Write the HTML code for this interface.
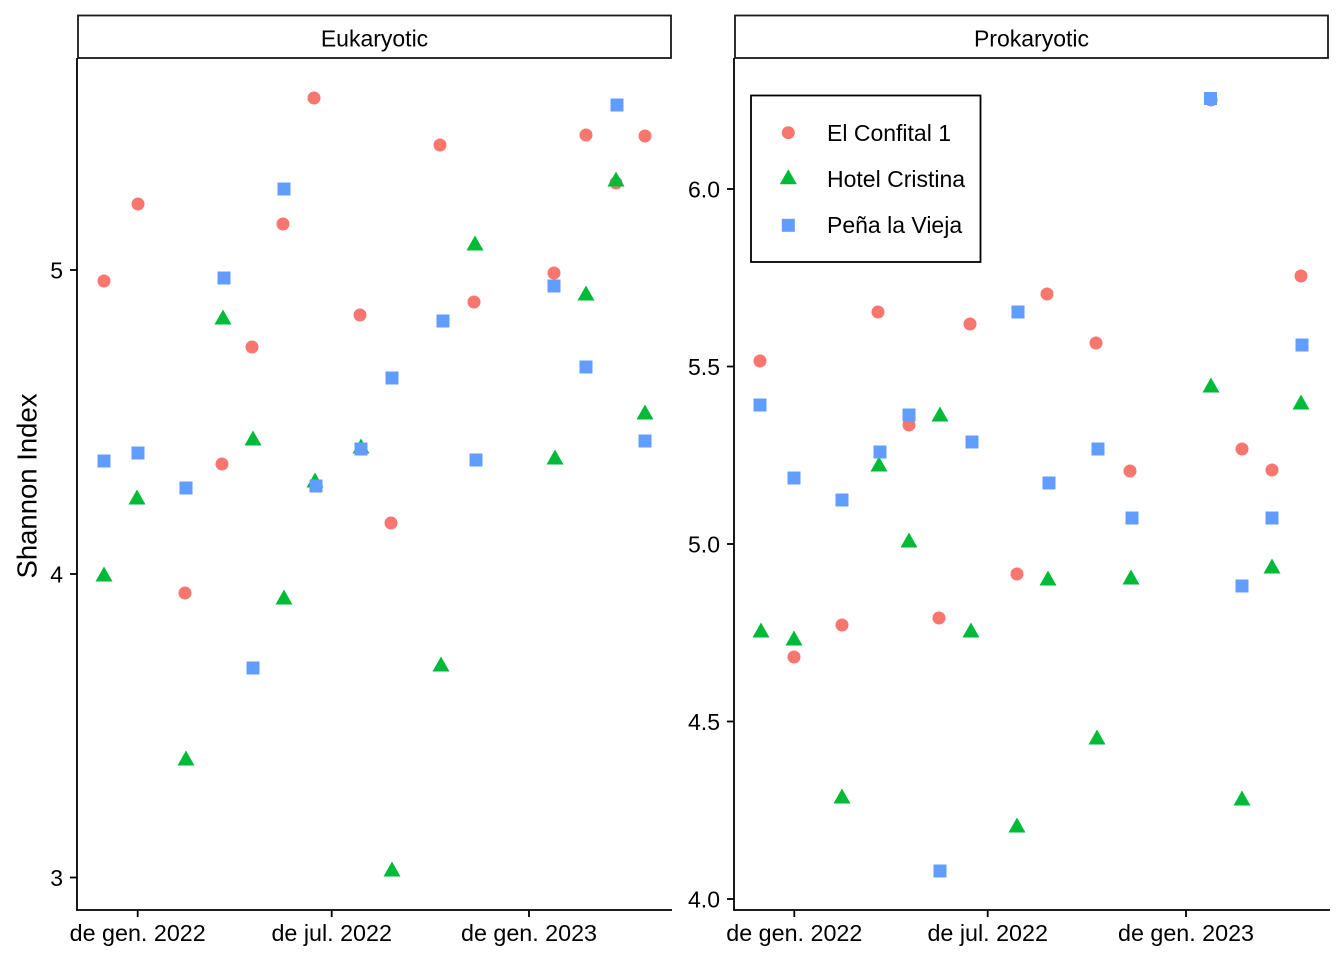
<!DOCTYPE html>
<html>
<head>
<meta charset="utf-8">
<style>
  html, body { margin: 0; padding: 0; background: #fff; }
  svg { display: block; }
  text { font-family: "Liberation Sans", Arial, sans-serif; fill: #000; }
</style>
</head>
<body>
<svg width="1344" height="960" viewBox="0 0 1344 960" xmlns="http://www.w3.org/2000/svg">
  <defs>
    <circle id="c" r="6.5" fill="#F8766D"/>
    <polygon id="t" points="-8.5,7.5 8.5,7.5 0,-7.5" fill="#00BA38"/>
    <rect id="s" x="-6.5" y="-6.5" width="13" height="13" fill="#619CFF"/>
  </defs>
  <rect width="1344" height="960" fill="#fff"/>

  <!-- Y axis title -->
  <text transform="translate(36.5,486) rotate(-90)" text-anchor="middle" font-size="27.5">Shannon Index</text>

  <!-- ===== LEFT PANEL ===== -->
  <rect x="78" y="15.5" width="593" height="42.5" fill="#fff" stroke="#1a1a1a" stroke-width="1.8"/>
  <text x="374.5" y="46.5" text-anchor="middle" font-size="23" fill="#1a1a1a">Eukaryotic</text>

  <g stroke="#000" stroke-width="1.8" fill="none">
    <line x1="77" y1="58" x2="77" y2="910.5"/>
    <line x1="76.1" y1="910" x2="672" y2="910"/>
    <line x1="70" y1="270" x2="77" y2="270"/>
    <line x1="70" y1="574" x2="77" y2="574"/>
    <line x1="70" y1="877.5" x2="77" y2="877.5"/>
    <line x1="137.7" y1="910" x2="137.7" y2="917"/>
    <line x1="331.7" y1="910" x2="331.7" y2="917"/>
    <line x1="529" y1="910" x2="529" y2="917"/>
  </g>
  <g font-size="23" text-anchor="end">
    <text x="63" y="278.3">5</text>
    <text x="63" y="582.3">4</text>
    <text x="63" y="885.8">3</text>
  </g>
  <g font-size="23.3" text-anchor="middle">
    <text x="137.7" y="941">de gen. 2022</text>
    <text x="331.7" y="941">de jul. 2022</text>
    <text x="529" y="941">de gen. 2023</text>
  </g>

  <!-- left points: red -->
  <g>
    <use href="#c" x="104" y="281"/><use href="#c" x="138" y="204"/><use href="#c" x="185" y="593"/>
    <use href="#c" x="222" y="464"/><use href="#c" x="252" y="347"/><use href="#c" x="283" y="224"/>
    <use href="#c" x="314" y="98"/><use href="#c" x="360" y="315"/><use href="#c" x="391" y="523"/>
    <use href="#c" x="440" y="145"/><use href="#c" x="474" y="302"/><use href="#c" x="554" y="273"/>
    <use href="#c" x="586" y="135"/><use href="#c" x="616" y="183"/><use href="#c" x="645" y="136"/>
  </g>
  <!-- left points: green -->
  <g>
    <use href="#t" x="104" y="574"/><use href="#t" x="137" y="497"/><use href="#t" x="186" y="758"/>
    <use href="#t" x="223" y="317"/><use href="#t" x="253" y="438"/><use href="#t" x="284" y="597"/>
    <use href="#t" x="315" y="480"/><use href="#t" x="361" y="446"/><use href="#t" x="392" y="869"/>
    <use href="#t" x="441" y="664"/><use href="#t" x="475" y="243"/><use href="#t" x="555" y="457"/>
    <use href="#t" x="586" y="293"/><use href="#t" x="616" y="179"/><use href="#t" x="645" y="412"/>
  </g>
  <!-- left points: blue -->
  <g>
    <use href="#s" x="104" y="461"/><use href="#s" x="138" y="453"/><use href="#s" x="186" y="488"/>
    <use href="#s" x="224" y="278"/><use href="#s" x="253" y="668"/><use href="#s" x="284" y="189"/>
    <use href="#s" x="316" y="486"/><use href="#s" x="361" y="449"/><use href="#s" x="392" y="378"/>
    <use href="#s" x="443" y="321"/><use href="#s" x="476" y="460"/><use href="#s" x="554" y="286"/>
    <use href="#s" x="586" y="367"/><use href="#s" x="617" y="105"/><use href="#s" x="645" y="441"/>
  </g>

  <!-- ===== RIGHT PANEL ===== -->
  <rect x="735" y="15.5" width="593" height="42.5" fill="#fff" stroke="#1a1a1a" stroke-width="1.8"/>
  <text x="1031.5" y="46.5" text-anchor="middle" font-size="23" fill="#1a1a1a">Prokaryotic</text>

  <g stroke="#000" stroke-width="1.8" fill="none">
    <line x1="734" y1="58" x2="734" y2="910.5"/>
    <line x1="733.1" y1="910" x2="1330" y2="910"/>
    <line x1="727" y1="189" x2="734" y2="189"/>
    <line x1="727" y1="366.5" x2="734" y2="366.5"/>
    <line x1="727" y1="544" x2="734" y2="544"/>
    <line x1="727" y1="721.5" x2="734" y2="721.5"/>
    <line x1="727" y1="899" x2="734" y2="899"/>
    <line x1="794.3" y1="910" x2="794.3" y2="917"/>
    <line x1="987.7" y1="910" x2="987.7" y2="917"/>
    <line x1="1186" y1="910" x2="1186" y2="917"/>
  </g>
  <g font-size="23" text-anchor="end">
    <text x="720" y="197.3">6.0</text>
    <text x="720" y="374.8">5.5</text>
    <text x="720" y="552.3">5.0</text>
    <text x="720" y="729.8">4.5</text>
    <text x="720" y="907.3">4.0</text>
  </g>
  <g font-size="23.3" text-anchor="middle">
    <text x="794.3" y="941">de gen. 2022</text>
    <text x="987.7" y="941">de jul. 2022</text>
    <text x="1186" y="941">de gen. 2023</text>
  </g>

  <!-- right points: red -->
  <g>
    <use href="#c" x="760" y="361"/><use href="#c" x="794" y="657"/><use href="#c" x="842" y="625"/>
    <use href="#c" x="878" y="312"/><use href="#c" x="909" y="425"/><use href="#c" x="939" y="618"/>
    <use href="#c" x="970" y="324"/><use href="#c" x="1017" y="574"/><use href="#c" x="1047" y="294"/>
    <use href="#c" x="1096" y="343"/><use href="#c" x="1130" y="471"/><use href="#c" x="1211" y="100"/>
    <use href="#c" x="1242" y="449"/><use href="#c" x="1272" y="470"/><use href="#c" x="1301" y="276"/>
  </g>
  <!-- right points: green -->
  <g>
    <use href="#t" x="761" y="630"/><use href="#t" x="794" y="638"/><use href="#t" x="842" y="796"/>
    <use href="#t" x="879" y="464"/><use href="#t" x="909" y="540"/><use href="#t" x="940" y="414"/>
    <use href="#t" x="971" y="630"/><use href="#t" x="1017" y="825"/><use href="#t" x="1048" y="578"/>
    <use href="#t" x="1097" y="737"/><use href="#t" x="1131" y="577"/><use href="#t" x="1211" y="385"/>
    <use href="#t" x="1242" y="798"/><use href="#t" x="1272" y="566"/><use href="#t" x="1301" y="402"/>
  </g>
  <!-- right points: blue -->
  <g>
    <use href="#s" x="760" y="405"/><use href="#s" x="794" y="478"/><use href="#s" x="842" y="500"/>
    <use href="#s" x="880" y="452"/><use href="#s" x="909" y="415"/><use href="#s" x="940" y="871"/>
    <use href="#s" x="972" y="442"/><use href="#s" x="1018" y="312"/><use href="#s" x="1049" y="483"/>
    <use href="#s" x="1098" y="449"/><use href="#s" x="1132" y="518"/><use href="#s" x="1210.5" y="98.5"/>
    <use href="#s" x="1242" y="586"/><use href="#s" x="1272" y="518"/><use href="#s" x="1302" y="345"/>
  </g>

  <!-- Legend -->
  <rect x="751" y="95.5" width="229.5" height="166.5" fill="#fff" stroke="#000" stroke-width="1.8"/>
  <use href="#c" x="788.3" y="132.7"/>
  <use href="#t" x="788.3" y="176.7"/>
  <use href="#s" x="788.3" y="225.3"/>
  <g font-size="23">
    <text x="827" y="140.8">El Confital 1</text>
    <text x="827" y="186.8">Hotel Cristina</text>
    <text x="827" y="232.8">Peña la Vieja</text>
  </g>
</svg>
</body>
</html>
